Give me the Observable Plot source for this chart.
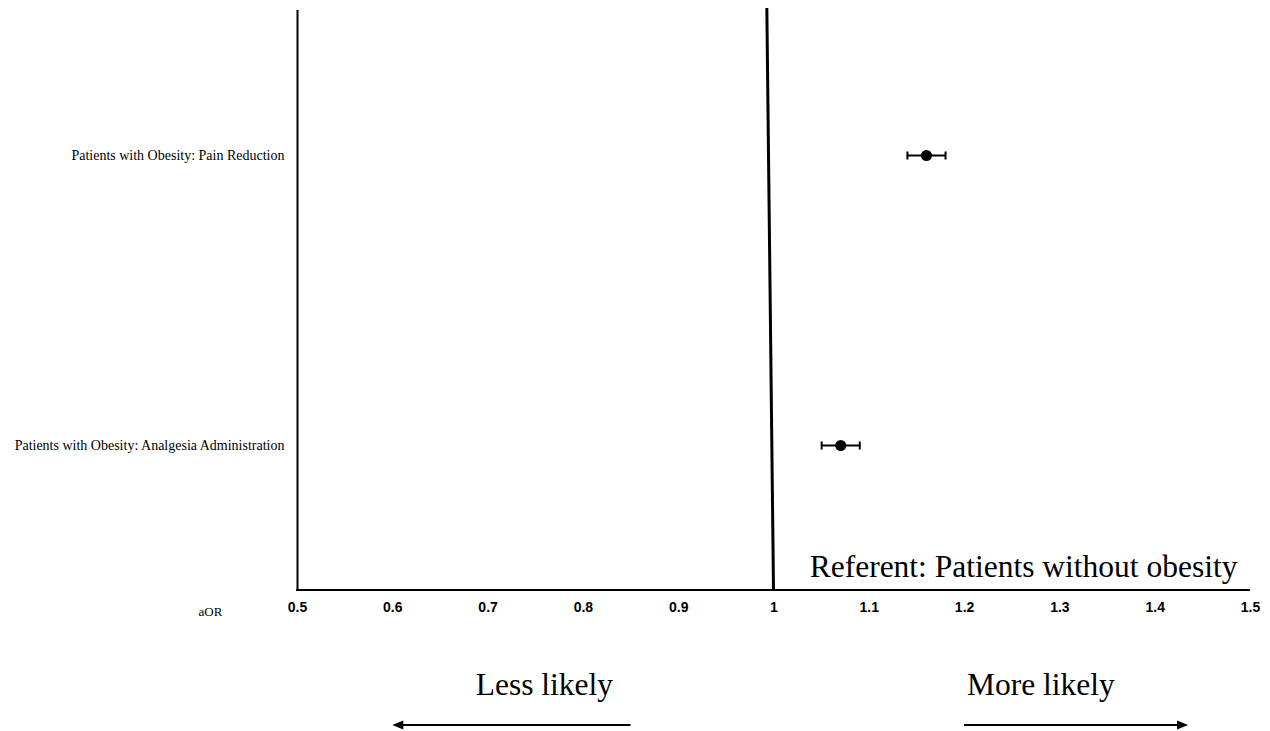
<!DOCTYPE html>
<html>
<head>
<meta charset="utf-8">
<script src="https://cdn.jsdelivr.net/npm/d3@7"></script>
<script src="https://cdn.jsdelivr.net/npm/@observablehq/plot@0.6"></script>
<style>
  html, body { margin: 0; padding: 0; background: #fff; }
  #chart svg { display: block; }
</style>
</head>
<body>
<div id="chart"></div>
<script>
// ---- data ----
const outcomes = ["Patients with Obesity: Pain Reduction", "Patients with Obesity: Analgesia Administration"];
const aor = [1.16, 1.07];
const lower = [1.14, 1.05];
const upper = [1.18, 1.09];
const xTicks = [0.5, 0.6, 0.7, 0.8, 0.9, 1, 1.1, 1.2, 1.3, 1.4, 1.5];
const referentLabel = "Referent: Patients without obesity";
const axisLabel = "aOR";
const directionLabels = ["Less likely", "More likely"];
const directionFrom = [0.85, 1.2];
const directionTo = [0.6, 1.435];
const directionTextAt = [0.759, 1.28];

const rows = outcomes.map((o, i) => ({outcome: o, aor: aor[i], lo: lower[i], hi: upper[i]}));
const dirs = directionLabels.map((t, i) => ({label: t, from: directionFrom[i], to: directionTo[i], at: directionTextAt[i]}));

const serif = "'Liberation Serif', 'Times New Roman', serif";
const sans = "'Liberation Sans', Arial, sans-serif";

// vertical cap symbol for the error bars
const capSymbol = {
  draw(context, size) {
    const h = Math.sqrt(size / Math.PI);
    context.moveTo(0, -h);
    context.lineTo(0, h);
  }
};

function extras(index, scales, values, dims) {
  const x = scales.x;
  const g = d3.create("svg:g");
  const bottom = dims.height - dims.marginBottom;
  // x axis line
  g.append("line")
    .attr("x1", dims.marginLeft - 1).attr("x2", dims.width - dims.marginRight)
    .attr("y1", bottom).attr("y2", bottom)
    .attr("stroke", "black").attr("stroke-width", 2);
  // reference line at aOR = 1 (slightly slanted as in the original)
  g.append("line")
    .attr("x1", x(1 - 0.007)).attr("y1", dims.marginTop - 2)
    .attr("x2", x(1)).attr("y2", bottom)
    .attr("stroke", "black").attr("stroke-width", 3);
  // direction arrows
  const ay = bottom + 135;
  for (const d of dirs) {
    const x1 = x(d.from), x2 = x(d.to);
    const s = Math.sign(x2 - x1);
    g.append("line")
      .attr("x1", x1).attr("x2", x2 - s * 8)
      .attr("y1", ay).attr("y2", ay)
      .attr("stroke", "black").attr("stroke-width", 2);
    g.append("path")
      .attr("d", `M${x2},${ay}L${x2 - s * 11},${ay - 4.5}L${x2 - s * 11},${ay + 4.5}Z`)
      .attr("fill", "black");
  }
  return g.node();
}

const plot = Plot.plot({
  width: 1270,
  height: 731,
  marginLeft: 297,
  marginRight: 20,
  marginTop: 10,
  marginBottom: 141,
  x: {domain: [0.5, 1.5]},
  y: {type: "point", domain: outcomes, padding: 0.5},
  marks: [
    Plot.ruleX([0.5], {stroke: "black", strokeWidth: 2}),
    Plot.axisY({tickSize: 0, tickPadding: 13, fontFamily: serif, fontSize: 14, label: null, fill: "black"}),
    Plot.axisX({ticks: xTicks, tickSize: 0, tickPadding: 12, tickFormat: d => String(d), fontFamily: sans, fontWeight: "bold", fontSize: 14, label: null, fill: "black"}),
    extras,
    Plot.ruleY(rows, {y: "outcome", x1: "lo", x2: "hi", stroke: "black", strokeWidth: 2}),
    Plot.dot(rows, {x: "lo", y: "outcome", r: 4, symbol: capSymbol, stroke: "black", strokeWidth: 2, fill: "none"}),
    Plot.dot(rows, {x: "hi", y: "outcome", r: 4, symbol: capSymbol, stroke: "black", strokeWidth: 2, fill: "none"}),
    Plot.dot(rows, {x: "aor", y: "outcome", r: 5.5, fill: "black", stroke: "none"}),
    Plot.text([referentLabel], {frameAnchor: "bottom-right", textAnchor: "end", lineAnchor: "bottom", dx: -13, dy: -14, fontFamily: serif, fontSize: 31.5, fill: "black"}),
    Plot.text([axisLabel], {frameAnchor: "bottom-left", textAnchor: "middle", lineAnchor: "bottom", dx: -87, dy: 25, fontFamily: serif, fontSize: 13, fill: "black"}),
    Plot.text(dirs, {x: "at", text: "label", frameAnchor: "bottom", lineAnchor: "bottom", dy: 104, fontFamily: serif, fontSize: 31.5, fill: "black"})
  ]
});
document.getElementById("chart").appendChild(plot);
</script>
</body>
</html>
